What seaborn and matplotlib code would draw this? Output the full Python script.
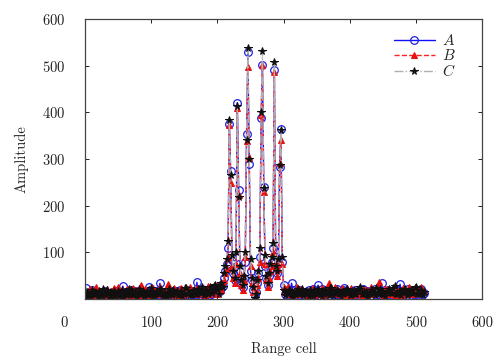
import matplotlib
matplotlib.use("Agg")
import matplotlib.pyplot as plt
import matplotlib.transforms as mtransforms
import pandas as pd
import seaborn as sns

# range cells: every 2nd cell
cells_low = list(range(1, 200, 2))
cells_mid = list(range(200, 301, 2))
cells_high = list(range(302, 513, 2))

# series A (blue circles)
a_low = [24, 5, 8, 13, 15, 20, 12, 4, 10, 16, 6, 11, 14, 3, 18, 9, 9, 14, 11, 6,
         16, 12, 7, 18, 13, 5, 16, 10, 28, 15, 10, 7, 8, 12, 19, 4, 12, 17, 5, 11,
         15, 8, 18, 13, 11, 3, 9, 16, 27, 10, 14, 6, 18, 12, 7, 19, 34, 9, 16, 5,
         10, 14, 20, 8, 13, 17, 8, 4, 17, 11, 15, 20, 11, 7, 6, 13, 15, 9, 19, 5,
         12, 16, 14, 10, 36, 12, 14, 6, 21, 15, 10, 18, 16, 9, 8, 14, 13, 20, 22, 17]
a_mid = [15, 22, 18, 30, 28, 45, 60, 75, 110, 376, 274, 84, 55, 40, 90, 421, 233, 60, 35, 25,
         45, 80, 353, 530, 290, 60, 40, 20, 8, 15, 35, 55, 90, 388, 501, 241, 70, 45, 30, 50,
         65, 80, 110, 491, 90, 55, 75, 283, 364, 80, 30]
a_high = [10, 18, 6, 12, 15, 34, 20, 9, 8, 15, 13, 20, 17, 11, 4, 7, 11, 16, 19, 13,
          14, 22, 5, 8, 16, 30, 9, 14, 21, 10, 12, 19, 15, 6, 8, 15, 18, 12, 10, 21,
          14, 9, 6, 17, 19, 24, 13, 11, 7, 14, 16, 8, 11, 19, 20, 13, 9, 10, 15, 22,
          12, 7, 18, 15, 5, 18, 14, 12, 22, 9, 10, 20, 17, 34, 8, 14, 13, 11, 20, 17,
          6, 8, 12, 15, 16, 19, 9, 32, 18, 10, 11, 13, 15, 21, 7, 9, 19, 16, 13, 12,
          9, 18, 16, 22, 11, 14]

# series B (red triangles)
b_low = [14, 9, 18, 22, 10, 15, 20, 7, 25, 13, 12, 18, 16, 6, 9, 20, 22, 11, 15, 17,
         11, 24, 19, 8, 26, 14, 13, 19, 17, 10, 8, 21, 21, 12, 14, 6, 24, 16, 11, 20,
         16, 9, 30, 14, 12, 22, 18, 7, 9, 15, 15, 23, 20, 10, 13, 18, 25, 12, 10, 16,
         17, 8, 32, 19, 14, 11, 19, 24, 8, 13, 16, 21, 23, 9, 12, 17, 20, 14, 15, 26,
         11, 19, 18, 10, 24, 15, 13, 22, 17, 8, 21, 16, 28, 12, 15, 20, 19, 25, 26, 30]
b_mid = [10, 18, 25, 20, 35, 40, 55, 65, 90, 373, 248, 70, 45, 35, 75, 409, 223, 55, 30, 20,
         40, 90, 338, 498, 305, 70, 35, 15, 5, 20, 30, 45, 80, 394, 501, 230, 75, 40, 25, 45,
         60, 70, 100, 487, 80, 50, 65, 291, 340, 75, 25]
b_high = [16, 22, 25, 15, 12, 10, 8, 18, 19, 25, 14, 12, 22, 20, 10, 14, 17, 9, 13, 17,
          20, 23, 7, 11, 18, 16, 12, 19, 24, 8, 15, 21, 10, 34, 21, 13, 14, 18, 26, 10,
          11, 15, 17, 24, 20, 12, 9, 17, 15, 20, 23, 9, 12, 14, 18, 22, 16, 11, 8, 16,
          21, 19, 14, 13, 10, 25, 19, 10, 13, 18, 27, 36, 16, 15, 9, 12, 22, 21, 12, 14,
          18, 17, 11, 9, 24, 20, 15, 13, 8, 24, 20, 11, 13, 16, 25, 19, 10, 12, 17, 22,
          21, 15, 14, 25, 19, 18]

# series C (black stars)
c_low = [5, 16, 12, 7, 8, 19, 15, 11, 10, 4, 18, 14, 6, 21, 13, 9, 20, 15, 9, 3,
         14, 18, 7, 12, 17, 6, 11, 20, 4, 13, 16, 8, 12, 22, 19, 10, 8, 15, 13, 5,
         21, 11, 10, 17, 6, 14, 15, 9, 12, 23, 18, 7, 9, 16, 14, 12, 22, 19, 7, 10,
         11, 4, 16, 21, 13, 8, 20, 15, 10, 18, 8, 12, 17, 6, 12, 24, 23, 14, 14, 9,
         9, 17, 19, 11, 11, 22, 15, 13, 25, 8, 18, 20, 12, 16, 27, 14, 20, 28, 30, 22]
c_mid = [20, 12, 28, 35, 25, 55, 70, 85, 125, 384, 265, 95, 60, 45, 100, 414, 219, 70, 40, 30,
         50, 100, 340, 539, 300, 85, 45, 25, 3, 12, 40, 60, 110, 401, 531, 238, 95, 50, 35, 55,
         75, 90, 120, 507, 70, 60, 85, 287, 362, 90, 20]
c_high = [8, 15, 12, 20, 18, 8, 5, 13, 11, 17, 21, 10, 14, 22, 9, 16, 17, 12, 6, 19,
          13, 7, 20, 14, 10, 21, 16, 11, 7, 18, 19, 15, 12, 9, 23, 24, 9, 13, 15, 20,
          18, 10, 6, 16, 11, 14, 20, 22, 14, 8, 8, 17, 17, 12, 12, 19, 22, 26, 10, 11,
          16, 15, 5, 9, 13, 20, 19, 14, 9, 23, 15, 12, 21, 18, 11, 10, 7, 16, 18, 21,
          14, 13, 23, 28, 10, 11, 16, 17, 8, 15, 20, 22, 12, 9, 17, 19, 13, 14, 24, 25,
          11, 12, 18, 20, 9, 16]

x_ticks = [0, 100, 200, 300, 400, 500, 600]
y_ticks = [100, 200, 300, 400, 500, 600]

df = pd.DataFrame({
    "cell": cells_low + cells_mid + cells_high,
    "A": a_low + a_mid + a_high,
    "B": b_low + b_mid + b_high,
    "C": c_low + c_mid + c_high,
})

sns.set_theme(style="ticks")
plt.rcParams["font.family"] = ["cmr10", "DejaVu Serif"]
plt.rcParams["mathtext.fontset"] = "cm"
plt.rcParams["axes.formatter.use_mathtext"] = True
plt.rcParams["axes.unicode_minus"] = False

fig = plt.figure(figsize=(4.98, 3.6), dpi=100)
ax = fig.add_axes([0.171, 0.169, 0.797, 0.778])

sns.lineplot(data=df, x="cell", y="A", ax=ax, color="#1010ff", linewidth=1.0,
             marker="o", markersize=5.5, markerfacecolor="none", markeredgecolor="#2020e0",
             markeredgewidth=0.9, label="$A$", estimator=None)
sns.lineplot(data=df, x="cell", y="B", ax=ax, color="#ff2020", linewidth=1.0, linestyle="--",
             marker="^", markersize=4.5, markerfacecolor="#e81010", markeredgecolor="#e81010",
             label="$B$", estimator=None)
sns.lineplot(data=df, x="cell", y="C", ax=ax, color="#b0b0b0", linewidth=1.0, linestyle="-.",
             marker="*", markersize=5.5, markerfacecolor="#101010", markeredgecolor="#101010",
             label="$C$", estimator=None)

ax.set_xlim(0, 600)
ax.set_ylim(0, 600)
ax.set_xticks(x_ticks)
ax.set_yticks(y_ticks)
ax.set_xticklabels([str(v) for v in x_ticks])
ax.tick_params(direction="in", length=3, width=0.7, top=True, right=True,
               labelsize=10.5, colors="#222222")
ax.tick_params(axis="x", pad=12)
ax.tick_params(axis="y", pad=14)

# the "0" sits at the corner of the frame
zero_lab = ax.get_xticklabels()[0]
zero_lab.set_transform(zero_lab.get_transform() +
                       mtransforms.ScaledTranslation(-0.21, 0, fig.dpi_scale_trans))

for s in ax.spines.values():
    s.set_color("#444444")
    s.set_linewidth(0.9)

ax.set_xlabel("Range cell", fontsize=10.5, labelpad=9)
ax.set_ylabel("Amplitude", fontsize=10.5, labelpad=10)

ax.legend(loc="upper right", bbox_to_anchor=(0.975, 1.01), frameon=False, fontsize=11,
          handlelength=2.7, labelspacing=0.0, borderaxespad=0.7, handletextpad=0.45)

fig.savefig("out.png", dpi=100)
